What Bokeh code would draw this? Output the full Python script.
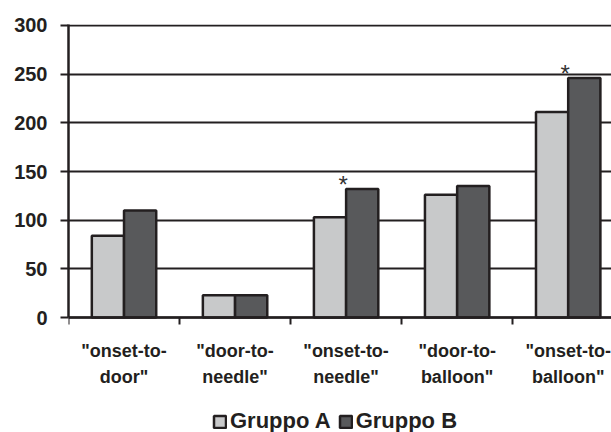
from bokeh.plotting import figure
from bokeh.models import Range1d, FixedTicker, Legend, LegendItem, ColumnDataSource
from bokeh.core.properties import value
from bokeh.embed import file_html
from bokeh.resources import INLINE

categories = ['"onset-to-\ndoor"', '"door-to-\nneedle"', '"onset-to-\nneedle"',
              '"door-to-\nballoon"', '"onset-to-\nballoon"']
gruppo_a = [84, 23, 103, 126, 211]
gruppo_b = [110, 23, 132, 135, 246]
significant = [False, False, True, False, True]
y_ticks = [0, 50, 100, 150, 200, 250, 300]
series_names = ["Gruppo A", "Gruppo B"]

centers = [i + 0.5 for i in range(len(categories))]
bw = 0.29

# frame extends below zero so that tick labels and legend live inside the frame
p = figure(frame_width=543, frame_height=408, output_backend="svg", toolbar_location=None,
           x_range=Range1d(0, 4.89), y_range=Range1d(-118.1, 301),
           min_border_left=68, min_border_right=0, min_border_top=24, min_border_bottom=0)
p.outline_line_color = None
p.background_fill_color = "white"

FONT = "Liberation Sans"
DARK = "#231f20"

# grid
p.xgrid.visible = False
p.ygrid.ticker = FixedTicker(ticks=y_ticks)
p.ygrid.grid_line_color = DARK
p.ygrid.grid_line_width = 2

src = ColumnDataSource(dict(
    xa=[c - bw / 2 for c in centers], xb=[c + bw / 2 for c in centers],
    a=gruppo_a, b=gruppo_b))
ra = p.vbar(x="xa", top="a", width=bw, bottom=0, source=src,
            fill_color="#c8c9ca", line_color=DARK, line_width=2.5)
rb = p.vbar(x="xb", top="b", width=bw, bottom=0, source=src,
            fill_color="#58595b", line_color=DARK, line_width=2.5)

sx = [c for c, s in zip(centers, significant) if s]
sy = [b for b, s in zip(gruppo_b, significant) if s]
p.text(x=sx, y=sy, text=["*"] * len(sx), text_font=value(FONT),
       text_font_size="24px", text_color="#333333", text_align="center",
       text_baseline="alphabetic", x_offset=-3, y_offset=-5)

# y axis
ya = p.yaxis[0]
ya.ticker = FixedTicker(ticks=y_ticks)
ya.bounds = (0, 301)
ya.axis_line_color = DARK
ya.axis_line_width = 2.5
ya.major_tick_line_color = DARK
ya.major_tick_line_width = 2
ya.major_tick_out = 8
ya.major_tick_in = 0
ya.minor_tick_line_color = None
ya.major_label_text_font = FONT
ya.major_label_text_font_style = "bold"
ya.major_label_text_font_size = "20px"
ya.major_label_text_color = DARK
ya.major_label_standoff = 13

# x axis, pinned at y = 0
xa = p.xaxis[0]
xa.fixed_location = 0
xa.ticker = FixedTicker(ticks=centers, minor_ticks=list(range(len(categories) + 1)))
xa.major_label_overrides = {c: lab for c, lab in zip(centers, categories)}
xa.axis_line_color = DARK
xa.axis_line_width = 2.5
xa.major_tick_line_color = None
xa.minor_tick_line_color = DARK
xa.minor_tick_line_width = 2
xa.minor_tick_out = 7
xa.minor_tick_in = 0
xa.major_label_text_font = FONT
xa.major_label_text_font_style = "bold"
xa.major_label_text_font_size = "18px"
xa.major_label_text_color = DARK
xa.major_label_standoff = 16
xa.major_label_text_line_height = 1.3

legend = Legend(items=[LegendItem(label=series_names[0], renderers=[ra]),
                       LegendItem(label=series_names[1], renderers=[rb])],
                orientation="horizontal", location=(144, -2),
                label_text_font=FONT, label_text_font_style="bold",
                label_text_font_size="22px", label_text_color=DARK,
                glyph_width=15, glyph_height=15, label_standoff=3, spacing=7,
                border_line_color=None, background_fill_alpha=0,
                margin=0, padding=0)
p.add_layout(legend, "center")

open("out.html", "w").write(file_html(p, INLINE))
